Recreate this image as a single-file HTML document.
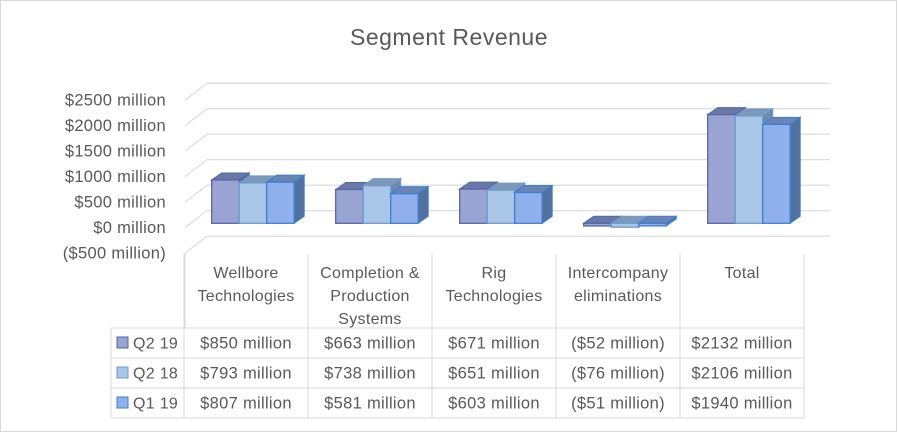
<!DOCTYPE html>
<html><head><meta charset="utf-8"><style>
html,body{margin:0;padding:0;background:#fff}
svg{display:block;font-family:"Liberation Sans",sans-serif}
</style></head><body>
<svg id="c" width="898" height="433" viewBox="0 0 898 433">
<rect x="0.5" y="0.5" width="896" height="431" fill="#fff" stroke="#d9d9d9"/>
<text x="449" y="45" text-anchor="middle" font-size="23" letter-spacing="0.5" fill="#595959">Segment  Revenue</text>
<g id="grid"></g><g id="bars"></g><g id="table"></g>
</svg>
<script>
const categories=[["Wellbore","Technologies"],["Completion &","Production","Systems"],["Rig","Technologies"],["Intercompany","eliminations"],["Total"]];
const seriesNames=["Q2 19","Q2 18","Q1 19"];
const q219=[850,663,671,-52,2132];
const q218=[793,738,651,-76,2106];
const q119=[807,581,603,-51,1940];
const ticks=[-500,0,500,1000,1500,2000,2500];
const tickLabels=["($500 million)","$0 million","$500 million","$1000 million","$1500 million","$2000 million","$2500 million"];
const valueLabels=[
["$850 million","$663 million","$671 million","($52 million)","$2132 million"],
["$793 million","$738 million","$651 million","($76 million)","$2106 million"],
["$807 million","$581 million","$603 million","($51 million)","$1940 million"]];
const series=[q219,q218,q119];
const NS="http://www.w3.org/2000/svg";
function mk(p,t,a,txt){const e=document.createElementNS(NS,t);for(const k in a)e.setAttribute(k,a[k]);if(txt!=null)e.textContent=txt;p.appendChild(e);return e;}
const s=25.5/500;
const yBack=v=>210.7-v*s;
const yFront=v=>yBack(v)+17;
const yBar=v=>223.3-v*s;
const grid=document.getElementById('grid');
ticks.forEach((t,i)=>{
 const l=mk(grid,'line',{x1:207,x2:830,y1:yBack(t),y2:yBack(t),stroke:'#d9d9d9','stroke-width':1.2});
 
 
 const d=mk(grid,'line',{x1:185,y1:yFront(t),x2:207,y2:yBack(t),stroke:'#d9d9d9','stroke-width':1});
 
 
 const tx=mk(grid,'text',{x:166,y:yFront(t)+5.5,'text-anchor':'end','font-size':16.5,'letter-spacing':0.3,fill:'#595959'},tickLabels[i]);
 
 
});
mk(grid,'line',{x1:185,y1:yFront(-500),x2:185,y2:328,stroke:'#d9d9d9'});
const fills=[['#9aa4d2','#6a78a8','#5b69a0','#5566a8'],['#a9c6e6','#7e98b8','#6f89ad','#6a9bd0'],['#8fb0ea','#6a84b4','#54709e','#3b7fd6']];
const bars=document.getElementById('bars');
const bw=27.5,dx=10,dy=-7;
for(let c=0;c<categories.length;c++){
 for(let k=0;k<3;k++){
  const v=series[k][c];
  const x=211.7+c*124+k*bw;
  let top=yBar(Math.max(v,0)),bot=yBar(Math.min(v,0));
  if(bot-top<2){bot=top+2;}
  const g=mk(bars,'g',{});
  
  
  const f=fills[k];
  mk(g,'polygon',{points:`${x+bw},${top} ${x+bw+dx},${top+dy} ${x+bw+dx},${bot+dy} ${x+bw},${bot}`,fill:f[2],stroke:f[3],'stroke-width':1});
  mk(g,'polygon',{points:`${x},${top} ${x+dx},${top+dy} ${x+bw+dx},${top+dy} ${x+bw},${top}`,fill:f[1],stroke:f[3],'stroke-width':1});
  mk(g,'rect',{x:x,y:top,width:bw,height:bot-top,fill:f[0],stroke:f[3],'stroke-width':1.3});
 }
}
const tb=document.getElementById('table');
const colX=[184,308,432,556,680,804];
colX.forEach(x=>mk(tb,'line',{x1:x,y1:254,x2:x,y2:418,stroke:'#d9d9d9'}));
[328,358,388,418].forEach(y=>mk(tb,'line',{x1:111,y1:y,x2:804,y2:y,stroke:'#d9d9d9'}));
mk(tb,'line',{x1:111,y1:328,x2:111,y2:418,stroke:'#d9d9d9'});
categories.forEach((lines,c)=>{
 const cx=(colX[c]+colX[c+1])/2;
 lines.forEach((ln,j)=>{
  const t=mk(tb,'text',{x:cx,y:278+j*23,'text-anchor':'middle','font-size':16,'letter-spacing':0.3,fill:'#595959'},ln);
  
  
 });
});
seriesNames.forEach((n,k)=>{
 const y=343+k*30;
 const sw=mk(tb,'rect',{x:117,y:y-6,width:11,height:11,fill:fills[k][0],stroke:fills[k][3]});
 
 
 const t=mk(tb,'text',{x:133,y:y+5.5,'font-size':16,'letter-spacing':0.3,fill:'#595959'},n);
 
 
 valueLabels[k].forEach((v,c)=>{
  const tv=mk(tb,'text',{x:(colX[c]+colX[c+1])/2,y:y+5.5,'text-anchor':'middle','font-size':16.5,'letter-spacing':0.3,fill:'#595959'},v);
  
  
 });
});
</script>
</body></html>
